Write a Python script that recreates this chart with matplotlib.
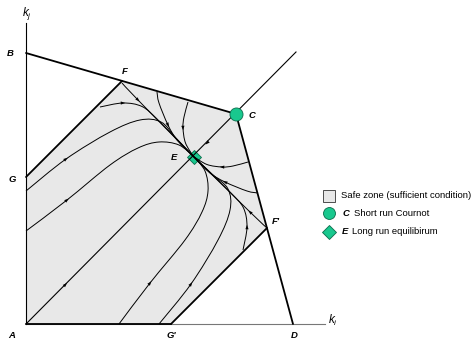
import numpy as np
import matplotlib
matplotlib.use("Agg")
import matplotlib.pyplot as plt
from matplotlib.path import Path
from matplotlib.patches import PathPatch, Polygon

plt.rcParams["font.family"] = ["Liberation Sans", "DejaVu Sans"]
plt.rcParams["mathtext.fontset"] = "custom"
plt.rcParams["mathtext.it"] = "Liberation Sans:italic"
plt.rcParams["mathtext.rm"] = "Liberation Sans"

# ---- key points in the (k_i, k_j) plane ----
pt_A = (0.0, 0.0)
pt_B = (0.0, 27.1)
pt_C = (21.0, 21.0)
pt_D = (26.7, 0.0)
pt_E = (16.75, 16.75)
pt_F = (9.6, 24.3)
pt_Fp = (24.1, 9.6)
pt_G = (0.0, 14.7)
pt_Gp = (14.5, 0.0)
diag_end = (27.0, 27.2)
axis_top = 30.1
axis_right = 29.9

# ---- trajectories below the diagonal (the ones above are their mirror images) ----
traj_a = [(9.3, 0.0), (12.4, 4.1), (15.9, 8.4), (17.6, 11.2), (18.2, 13.3), (17.9, 15.3), (16.75, 16.75)]
traj_b = [(13.3, 0.0), (16.5, 4.0), (19.2, 8.4), (20.4, 11.4), (20.2, 13.5), (18.6, 15.0), (16.75, 16.75)]
traj_c = [(21.7, 7.4), (22.1, 9.7), (21.75, 11.6), (20.5, 13.1), (18.7, 14.85), (16.75, 16.75)]
traj_d = [(23.2, 13.1), (22.1, 13.3), (19.9, 14.2), (18.4, 15.1), (16.75, 16.75)]
traj_e = [(22.2, 16.2), (20.7, 15.8), (19.6, 15.7), (18.1, 15.95), (16.75, 16.75)]
traj_fe = [pt_Fp, (22.4, 11.2), pt_E]
trajectories = [traj_a, traj_b, traj_c, traj_d, traj_e, traj_fe]
arrow_index = [1, 1, 1, 2, 2, 1]

# arrows on the diagonal: (position, direction)
diag_arrows = [((3.95, 3.95), (1, 1)), ((18.1, 18.1), (-1, -1))]

# legend entries
legend_zone = "Safe zone (sufficient condition)"
legend_c = ("C", "Short run Cournot")
legend_e = ("E", "Long run equilibirum")

green = "#19c88e"
zone_gray = "#e8e8e8"

fig = plt.figure(figsize=(4.76, 3.40), dpi=100)
ax = fig.add_axes([0, 0, 1, 1])
ax.set_xlim(-2.6, 45.0)
ax.set_ylim(-1.6, 32.4)
ax.set_aspect("equal")
ax.axis("off")


def smooth_path(pts):
    P = np.asarray(pts, dtype=float)
    n = len(P)
    verts = [P[0]]
    codes = [Path.MOVETO]
    for i in range(n - 1):
        p0 = P[i - 1] if i > 0 else P[i]
        p1, p2 = P[i], P[i + 1]
        p3 = P[i + 2] if i + 2 < n else P[i + 1]
        verts += [p1 + (p2 - p0) / 6.0, p2 - (p3 - p1) / 6.0, p2]
        codes += [Path.CURVE4] * 3
    return Path(verts, codes)


def arrowhead(pos, direction, length=0.45, width=0.32, z=5):
    p = np.asarray(pos, float)
    d = np.asarray(direction, float)
    d = d / np.hypot(*d)
    nrm = np.array([-d[1], d[0]])
    tip = p + d * length * 0.5
    base = p - d * length * 0.5
    tri = [tip, base + nrm * width / 2, base - nrm * width / 2]
    ax.add_patch(Polygon(tri, closed=True, facecolor="black", edgecolor="none", zorder=z))


# safe zone
zone = [pt_A, pt_G, pt_F, pt_C, pt_Fp, pt_Gp]
ax.add_patch(Polygon(zone, closed=True, facecolor=zone_gray, edgecolor="none", zorder=1))

# axes
ax.plot([0, 0], [0, axis_top], color="black", lw=0.8, zorder=3)
ax.plot([0, axis_right], [0, 0], color="#777777", lw=0.8, zorder=2)

# E marker sits beneath the trajectories
ax.plot(*pt_E, marker="D", ms=7, mfc=green, mec="#0b6b4b", mew=0.6, zorder=2.5)

# diagonal
ax.plot([pt_A[0], diag_end[0]], [pt_A[1], diag_end[1]], color="black", lw=0.8, zorder=3)
for pos, d in diag_arrows:
    arrowhead(pos, d)

# trajectories (both sides of the diagonal)
for traj, k in zip(trajectories, arrow_index):
    for pts in (traj, [(y, x) for x, y in traj]):
        ax.add_patch(PathPatch(smooth_path(pts), facecolor="none", edgecolor="black", lw=0.7, zorder=3))
        P = np.asarray(pts, float)
        arrowhead(P[k], P[k + 1] - P[k - 1])

# thick boundaries
thick = dict(color="black", lw=1.3, zorder=4, solid_capstyle="round")
ax.plot([pt_B[0], pt_C[0]], [pt_B[1], pt_C[1]], **thick)
ax.plot([pt_C[0], pt_D[0]], [pt_C[1], pt_D[1]], **thick)
ax.plot([pt_G[0], pt_F[0]], [pt_G[1], pt_F[1]], **thick)
ax.plot([pt_Fp[0], pt_Gp[0]], [pt_Fp[1], pt_Gp[1]], **thick)
ax.plot([pt_A[0], pt_Gp[0]], [pt_A[1], pt_Gp[1]], **thick)

# C marker
ax.plot(*pt_C, marker="o", ms=9.4, mfc=green, mec="#0b6b4b", mew=0.6, zorder=6)

# point labels
lab = dict(fontsize=6.8, fontweight="bold", fontstyle="italic", ha="center", va="center", zorder=7)
ax.text(-1.6, 27.1, "B", **lab)
ax.text(9.9, 25.2, "F", **lab)
ax.text(22.6, 20.9, "C", **lab)
ax.text(14.8, 16.6, "E", **lab)
ax.text(-1.4, 14.4, "G", **lab)
ax.text(25.0, 10.2, "F'", **lab)
ax.text(-1.4, -1.1, "A", **lab)
ax.text(14.5, -1.1, "G'", **lab)
ax.text(26.8, -1.1, "D", **lab)
ax.text(0.1, 31.0, r"$k_j$", fontsize=8.5, ha="center", va="center")
ax.text(30.7, 0.4, r"$k_i$", fontsize=8.5, ha="center", va="center")

# legend
lx, tx, fs = 30.3, 31.5, 6.8
ax.plot(lx, 12.85, marker="s", ms=8.5, mfc=zone_gray, mec="#333333", mew=0.6)
ax.text(tx, 12.85, legend_zone, fontsize=fs, va="center", ha="left")
ax.plot(lx, 11.1, marker="o", ms=8.6, mfc=green, mec="#0b6b4b", mew=0.6)
ax.text(tx + 0.2, 11.1, legend_c[0], fontsize=fs, fontweight="bold", fontstyle="italic", va="center", ha="left")
ax.text(32.75, 11.1, legend_c[1], fontsize=fs, va="center", ha="left")
ax.plot(lx, 9.2, marker="D", ms=7.5, mfc=green, mec="#0b6b4b", mew=0.6)
ax.text(tx + 0.1, 9.2, legend_e[0], fontsize=fs, fontweight="bold", fontstyle="italic", va="center", ha="left")
ax.text(32.6, 9.2, legend_e[1], fontsize=fs, va="center", ha="left")

fig.savefig("out.png", dpi=100)
